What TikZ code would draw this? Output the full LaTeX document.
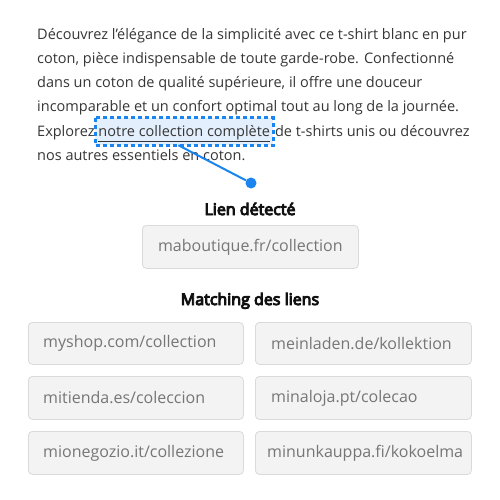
\documentclass[tikz,border=0pt]{standalone}
\usepackage{fontspec}
\setmainfont{Open Sans}
\newfontfamily\headfont[FakeBold=6]{Open Sans}
\definecolor{linkblue}{HTML}{1A85F0}
\definecolor{linkfill}{HTML}{E3EFFC}
\definecolor{boxfill}{HTML}{F3F3F3}
\definecolor{boxborder}{HTML}{DADADA}
\definecolor{urltxt}{HTML}{767676}
\definecolor{bodytxt}{HTML}{363636}
\definecolor{headtxt}{HTML}{111111}
\begin{document}
\begin{tikzpicture}[x=1pt,y=-1pt,
  bodyline/.style={anchor=base west, inner sep=0pt, text=bodytxt, font=\fontsize{14.5}{17}\selectfont},
  heading/.style={anchor=base, inner sep=0pt, text=headtxt, font=\fontsize{16}{18}\headfont},
  urlbox/.style={draw=boxborder, fill=boxfill, rounded corners=4pt, line width=0.8pt, anchor=north west, inner sep=0pt},
  urltext/.style={anchor=west, inner sep=0pt, text=urltxt, font=\fontsize{16}{19}\selectfont},
  linkbox/.style={anchor=base west, fill=linkfill, inner xsep=3pt, inner ysep=5pt, text height=13pt, text depth=4pt,
     text=bodytxt, font=\fontsize{14.5}{17}\selectfont},
  linkborder/.style={draw=linkblue, line width=2.7pt, dash pattern=on 4pt off 3pt}
]
\useasboundingbox (0,0) rectangle (500,500);
\fill[white] (0,0) rectangle (500,500);

\node[bodyline] (l1) at (37,40) {Découvrez l'élégance de la simplicité avec ce t-shirt blanc en pur};
\node[bodyline] (l2) at (37,64) {coton, pièce indispensable de toute garde-robe. Confectionné};
\node[bodyline] (l3) at (37,88) {dans un coton de qualité supérieure, il offre une douceur};
\node[bodyline] (l4) at (37,112) {incomparable et un confort optimal tout au long de la journée.};
\node[bodyline] (l5a) at (37,136) {Explorez};
\node[linkbox] (link) at ([xshift=0.5pt]l5a.base east) {\underline{notre collection complète}};
\draw[linkborder] (link.north west) rectangle (link.south east);
\node[bodyline] (l5b) at ([xshift=1.5pt]link.base east) {de t-shirts unis ou découvrez};
\node[bodyline] (l6) at (37,160) {nos autres essentiels en coton.};

\node[circle, fill=linkblue, minimum size=11pt, inner sep=0pt] (dot) at (251,183) {};
\draw[linkblue, line width=2pt] ([xshift=-6pt]link.south) -- (dot);

\node[heading] (h1) at (250,215) {Lien détecté};
\node[urlbox, minimum width=216pt, minimum height=43pt] (main) at (142,225) {};
\node[urltext, anchor=center] (maint) at (main.center) {maboutique.fr/collection};

\node[heading] (h2) at (250,305) {Matching des liens};

\node[urlbox, minimum width=215pt, minimum height=42pt] (a1) at (28,322) {};
\node[urlbox, minimum width=216pt, minimum height=42pt] (b1) at (255,322) {};
\node[urlbox, minimum width=215pt, minimum height=43pt] (a2) at (28,376) {};
\node[urlbox, minimum width=216pt, minimum height=43pt] (b2) at (255,376) {};
\node[urlbox, minimum width=215pt, minimum height=43pt] (a3) at (28,431) {};
\node[urlbox, minimum width=216pt, minimum height=43pt] (b3) at (255,431) {};

\node[urltext] (a1t) at ([xshift=15pt]a1.west) {myshop.com/collection};
\node[urltext] (b1t) at ([xshift=16pt]b1.west) {meinladen.de/kollektion};
\node[urltext] (a2t) at ([xshift=15pt]a2.west) {mitienda.es/coleccion};
\node[urltext] (b2t) at ([xshift=16pt]b2.west) {minaloja.pt/colecao};
\node[urltext] (a3t) at ([xshift=15pt]a3.west) {mionegozio.it/collezione};
\node[urltext] (b3t) at ([xshift=12pt]b3.west) {minunkauppa.fi/kokoelma};
\end{tikzpicture}
\end{document}
